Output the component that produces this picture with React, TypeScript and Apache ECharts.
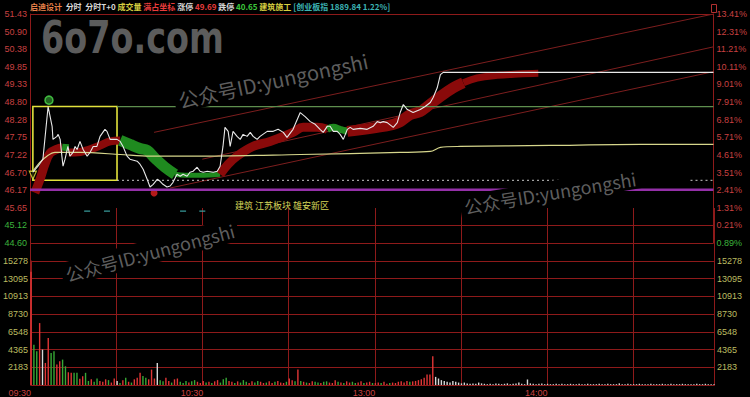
import { useEffect, useRef } from 'react';
import * as echarts from 'echarts';

// ---------- axis ticks ----------
const PRICE_MIN = 44.6;
const PRICE_MAX = 51.43;
const PRICE_TICKS = ['44.60', '45.12', '45.65', '46.17', '46.70', '47.22', '47.75', '48.28', '48.80', '49.33', '49.85', '50.38', '50.90', '51.43'];
const PCT_TICKS = ['0.89%', '0.21%', '1.31%', '2.41%', '3.51%', '4.61%', '5.71%', '6.81%', '7.91%', '9.01%', '10.11%', '11.21%', '12.31%', '13.41%'];
const VOL_MAX = 15278;
const VOL_TICKS = ['', '2183', '4365', '6548', '8730', '10913', '13095', '15278'];
const T_MAX = 238;
const TIME_TICK_VALUES = [0, 60, 120, 180];
const TIME_TICK_LABELS = ['09:30', '10:30', '13:00', '14:00'];

// ---------- price (minute index, price) ----------
const PRICE_T = [1.0, 2.8, 4.5, 6.3, 7.7, 8.0, 9.4, 9.8, 10.5, 11.1, 11.5, 12.2, 13.2, 13.9, 15.0, 15.7, 16.4, 17.4, 18.5, 19.9, 20.9, 22.0, 23.3, 24.4, 26.1, 26.8, 27.9, 30.3, 31.4, 32.4, 33.8, 34.8, 37.3, 38.3, 39.4, 40.8, 41.8, 42.9, 44.3, 45.3, 46.3, 47.7, 48.8, 49.8, 51.2, 52.3, 53.3, 54.7, 55.7, 56.8, 58.2, 59.2, 60.3, 61.7, 63.8, 65.2, 66.2, 67.2, 67.9, 69.0, 69.7, 70.7, 72.1, 73.2, 74.2, 75.6, 76.7, 77.7, 79.1, 80.1, 82.6, 84.7, 86.4, 88.2, 89.5, 91.6, 94.1, 95.8, 97.6, 99.3, 101.0, 102.1, 103.5, 104.5, 105.6, 107.0, 108.0, 109.1, 110.5, 111.5, 112.5, 115.0, 117.4, 119.5, 120.9, 122.0, 123.0, 124.4, 126.5, 127.9, 128.9, 130.0, 131.4, 133.4, 135.9, 137.6, 139.4, 140.4, 141.8, 142.9, 143.9, 238];
const PRICE_V = [46.71, 46.89, 47.10, 48.67, 48.08, 47.69, 47.78, 47.84, 47.69, 47.19, 46.89, 47.10, 47.48, 47.19, 47.30, 47.48, 47.39, 47.63, 47.39, 47.19, 47.30, 47.48, 47.48, 47.78, 47.99, 47.93, 47.69, 47.69, 47.63, 47.48, 47.19, 47.10, 47.04, 46.95, 46.80, 46.50, 46.27, 46.35, 46.50, 46.44, 46.35, 46.27, 46.30, 46.41, 46.65, 46.59, 46.65, 46.59, 46.71, 46.74, 46.86, 46.74, 46.71, 46.74, 46.71, 46.74, 46.89, 47.48, 48.05, 47.93, 47.48, 47.93, 47.78, 47.69, 47.84, 47.78, 47.90, 47.78, 47.69, 47.78, 47.93, 47.93, 47.99, 47.90, 47.75, 47.99, 48.49, 48.37, 48.22, 48.14, 47.99, 47.90, 48.08, 48.08, 47.93, 47.93, 47.84, 47.69, 47.99, 48.05, 47.99, 48.02, 47.99, 48.08, 48.22, 48.19, 48.22, 48.19, 48.05, 48.19, 48.49, 48.73, 48.58, 48.49, 48.58, 48.67, 48.79, 48.94, 49.23, 49.62, 49.69, 49.69];

// average price
const AVG_T = [1, 3.5, 5.9, 8.7, 17.4, 31.4, 41.8, 59.2, 94.1, 128.9, 139.4, 142.9, 149.8, 181.2, 212.5, 238];
const AVG_V = [46.74, 47.01, 47.19, 47.30, 47.30, 47.24, 47.19, 47.19, 47.24, 47.30, 47.33, 47.45, 47.48, 47.51, 47.54, 47.54];

// trend ribbon segments
const BAND_UP1_T = [1.7, 3.5, 5.2, 7.0, 9.5, 11.2];
const BAND_UP1_V = [46.10, 46.50, 46.95, 47.28, 47.40, 47.44];
const BAND_DN1_T = [11.2, 13.5];
const BAND_DN1_V = [47.46, 47.44];
const BAND_UP2_T = [13.5, 15.7, 20.9, 24.4, 27.9, 31.4];
const BAND_UP2_V = [47.30, 47.30, 47.39, 47.51, 47.63, 47.66];
const BAND_DN2_T = [31.4, 34.8, 38.3, 40.8, 43.6, 47.0, 50.5];
const BAND_DN2_V = [47.66, 47.54, 47.42, 47.36, 47.12, 46.86, 46.65];
const BAND_DN3_T = [50.5, 54.0, 59.2, 66.2];
const BAND_DN3_V = [46.65, 46.62, 46.62, 46.65];
const BAND_UP3_T = [66.2, 69.0, 72.1, 77.7, 83.6, 91.6, 95.1, 100.0, 103.5];
const BAND_UP3_V = [46.65, 46.95, 47.19, 47.48, 47.63, 47.90, 48.05, 48.05, 47.99];
const BAND_DN4_T = [103.5, 105.6, 108.0, 110.5];
const BAND_DN4_V = [47.99, 48.05, 47.99, 47.93];
const BAND_UP4_T = [110.5, 120.9, 126.5, 128.9, 132.4, 135.9, 138.3, 142.9, 147.4, 150.9];
const BAND_UP4_V = [47.93, 48.05, 48.14, 48.22, 48.43, 48.52, 48.67, 48.97, 49.23, 49.38];
const BAND_UP5_T = [150.9, 155.7, 162.7, 170.0, 177.0];
const BAND_UP5_V = [49.38, 49.52, 49.60, 49.64, 49.66];

// channel lines
const CH_A_T = [43.2, 238];
const CH_A_V = [47.90, 51.43];
const CH_B_T = [60, 238];
const CH_B_V = [47.10, 50.45];
const CH_C_T = [48.8, 238];
const CH_C_V = [46.24, 49.71];

// box and level lines
const BOX_T = [1, 30.3];
const BOX_V = [48.67, 46.47];
const LEVEL_HIGH_T = [30.3, 238];
const LEVEL_HIGH_V = 48.67;
const LEVEL_DOT1_T = [30.3, 186];
const LEVEL_DOT2_T = [230, 238];
const LEVEL_DOT_V = 46.47;
const LEVEL_LOW_T = [0, 238];
const LEVEL_LOW_V = 46.19;

// markers
const MARK_HIGH = [6.6, 48.86];
const MARK_LOW = [43.2, 46.09];
const MARK_START = [1, 46.62];
const SIGNAL_T = [19.9, 26.8, 53.3, 60.0];
const SIGNAL_V = 45.55;

// volume per minute (hands) and direction r/g/w
const VOL = [
  13960, 4970, 4150, 7630, 4360, 2720, 5790, 3950, 4150, 2520, 2920, 3130, 2310, 1570, 1500, 1500, 1500, 760, 1080, 1500,
  500, 700, 400, 800, 500, 400, 700, 600, 300, 800, 500, 250, 600, 900, 400, 300, 700, 900, 1500, 1100,
  900, 700, 1900, 800, 2720, 600, 450, 900, 500, 300, 700, 800, 400, 250, 500, 300, 450, 600, 400, 250,
  500, 300, 400, 250, 450, 600, 300, 700, 900, 500, 400, 250, 450, 300, 600, 400, 250, 450, 300, 500,
  400, 250, 300, 450, 250, 400, 500, 300, 250, 400, 800, 600, 450, 1900, 500, 400, 300, 250, 450, 400,
  300, 250, 400, 450, 300, 250, 600, 400, 300, 250, 450, 300, 400, 250, 300, 450, 250, 300, 400, 250,
  250, 300, 250, 400, 150, 250, 300, 250, 400, 450, 300, 500, 400, 450, 500, 600, 700, 900, 1300, 1300,
  3530, 1000, 800, 600, 500, 400, 300, 500, 400, 300, 200, 300, 200, 150, 200, 150, 300, 200, 150, 100,
  150, 100, 200, 150, 100, 150, 200, 100, 150, 200, 300, 150, 100, 680, 200, 150, 100, 150, 200, 100,
  150, 100, 100, 150, 100, 150, 100, 100, 150, 100, 100, 150, 100, 100, 150, 100, 100, 100, 150, 100,
  100, 150, 100, 100, 100, 200, 100, 100, 150, 100, 100, 100, 150, 100, 100, 100, 150, 100, 100, 100,
  150, 100, 100, 150, 100, 100, 100, 150, 100, 100, 100, 100, 150, 100, 100, 150, 100, 100, 100,
];
const VOL_DIR =
  'rggrwrrggrrggrrggrrg' +
  'grggrrrgrrwgrgrgrrrg' +
  'grrrwggrrgrrgggrggrr' +
  'rgrgrrgggrrgrgggrrgg' +
  'rrgrrgrrrgrrgrgrgrrg' +
  'grggrrrgrgrrggrrgrrg' +
  'rrgrrgrrrrrrgrrrrrrr' +
  'rwwwwwwwwwwwwwwwwwww' +
  'wwwwwwwwwwwwwwwwwwww' +
  'wwwwwwwwwwwwwwwwwwww' +
  'wwwwwwwwwwwwwwwwwwww' +
  'wwwwwwwwwwwwwwwwwww';

const GRID_C = '#8e1a1a';
const LBL_RED = '#c84040';
const LBL_GREEN = '#3cb43c';
const LBL_YEL = '#bcbc60';
const FONT = 'Liberation Sans, Arial, sans-serif';
const CJK = 'Noto Sans CJK SC, sans-serif';

const pair = (t: number[], v: number[]) => t.map((x, i) => [x, v[i]]);
const flat = (t: number[], v: number) => t.map((x) => [x, v]);

function line(data: number[][], color: string, width: number, extra: any = {}) {
  const { lineStyle, ...rest } = extra;
  return {
    type: 'line', xAxisIndex: 0, yAxisIndex: 0, data, symbol: 'none', showSymbol: false, silent: true,
    lineStyle: { color, width, cap: 'butt', ...(lineStyle || {}) },
    ...rest,
  };
}

function buildOption(): any {
  const UP = '#8a0a0a';
  const DN = '#1f8a1f';
  const splitColors = [GRID_C, GRID_C, 'transparent', 'transparent', 'transparent', 'transparent', 'transparent', 'transparent', 'transparent', 'transparent', 'transparent', 'transparent', 'transparent', GRID_C];
  const volStep = VOL_MAX / 7;
  const dirColor: Record<string, string> = { r: '#e03636', g: '#36a836', w: '#d8d8d8' };
  const hs = 8;

  return {
    backgroundColor: '#000',
    animation: false,
    title: {
      left: 30, top: 2, padding: 0,
      text: '{n|启迪设计}  {w|分时}  {w|分时T+0} {y|成交量} {r|满占坐标} {w|涨停} {r|49.69} {w|跌停} {g|40.65} {y|建筑施工} {c|[创业板指 1889.84 1.22%]}',
      textStyle: {
        fontSize: hs, fontFamily: CJK,
        rich: {
          n: { color: '#e8824a', fontSize: hs, fontFamily: CJK },
          w: { color: '#d8d8d8', fontSize: hs, fontFamily: CJK },
          y: { color: '#d8d040', fontSize: hs, fontFamily: CJK },
          r: { color: '#e83c3c', fontSize: hs, fontFamily: CJK },
          g: { color: '#3cc83c', fontSize: hs, fontFamily: CJK },
          c: { color: '#3cb4b4', fontSize: hs, fontFamily: CJK },
        },
      },
    },
    grid: [
      { left: 30, right: 36, top: 14, height: 229 },
      { left: 30, right: 36, top: 261, height: 124.5 },
      { left: 30, right: 36, top: 208, height: 177.5 },
    ],
    xAxis: [
      { gridIndex: 0, type: 'value', min: 0, max: T_MAX, show: false },
      {
        gridIndex: 1, type: 'value', min: 0, max: T_MAX, interval: 30,
        axisLine: { show: true, lineStyle: { color: GRID_C, width: 1 } },
        axisTick: { show: false }, splitLine: { show: false },
        axisLabel: {
          show: true, color: LBL_RED, fontSize: 9, fontFamily: FONT, align: 'right', margin: 3,
          showMinLabel: true, showMaxLabel: true,
          formatter: (v: number) => { const i = TIME_TICK_VALUES.indexOf(Math.round(v)); return i >= 0 ? TIME_TICK_LABELS[i] : ''; },
        },
      },
      {
        gridIndex: 2, type: 'value', min: 0, max: T_MAX, interval: 30,
        axisLine: { show: false }, axisTick: { show: false }, axisLabel: { show: false },
        splitLine: { show: true, lineStyle: { color: GRID_C, width: 1 } },
      },
    ],
    yAxis: [
      { gridIndex: 0, type: 'value', min: PRICE_MIN, max: PRICE_MAX, show: false },
      {
        gridIndex: 0, type: 'value', min: 0, max: 13, interval: 1, position: 'left',
        axisLine: { show: true, lineStyle: { color: GRID_C } }, axisTick: { show: false },
        axisLabel: {
          fontSize: 9, fontFamily: FONT, margin: 3,
          formatter: (v: number) => PRICE_TICKS[Math.round(v)] || '',
          color: (v: any) => (Number(v) <= 1 ? LBL_GREEN : LBL_RED),
        },
        splitLine: { show: true, lineStyle: { color: splitColors, width: 1 } },
      },
      {
        gridIndex: 0, type: 'value', min: 0, max: 13, interval: 1, position: 'right',
        axisLine: { show: true, lineStyle: { color: GRID_C } }, axisTick: { show: false },
        axisLabel: {
          fontSize: 9, fontFamily: FONT, margin: 3,
          formatter: (v: number) => PCT_TICKS[Math.round(v)] || '',
          color: (v: any) => (Number(v) < 1 ? LBL_GREEN : LBL_RED),
        },
        splitLine: { show: false },
      },
      {
        gridIndex: 1, type: 'value', min: 0, max: VOL_MAX, interval: volStep, position: 'left',
        axisLine: { show: true, lineStyle: { color: GRID_C } }, axisTick: { show: false },
        axisLabel: { fontSize: 9, fontFamily: FONT, margin: 3, color: LBL_YEL, formatter: (v: number) => VOL_TICKS[Math.round(v / volStep)] || '' },
        splitLine: { show: true, lineStyle: { color: GRID_C, width: 1 } },
      },
      {
        gridIndex: 1, type: 'value', min: 0, max: VOL_MAX, interval: volStep, position: 'right',
        axisLine: { show: true, lineStyle: { color: GRID_C } }, axisTick: { show: false },
        axisLabel: { fontSize: 9, fontFamily: FONT, margin: 3, color: LBL_YEL, formatter: (v: number) => VOL_TICKS[Math.round(v / volStep)] || '' },
        splitLine: { show: false },
      },
      { gridIndex: 2, type: 'value', min: 0, max: 1, show: false },
    ],
    series: [
      line(pair(CH_A_T, CH_A_V), '#7c1e1e', 1),
      line(pair(CH_B_T, CH_B_V), '#7c1e1e', 1),
      line(pair(CH_C_T, CH_C_V), '#7c1e1e', 1),
      line(pair(BAND_UP1_T, BAND_UP1_V), UP, 9, { smooth: 0.4 }),
      line(pair(BAND_DN1_T, BAND_DN1_V), DN, 7, { smooth: 0.4 }),
      line(pair(BAND_UP2_T, BAND_UP2_V), UP, 8, { smooth: 0.4 }),
      line(pair(BAND_DN2_T, BAND_DN2_V), DN, 11, { smooth: 0.4 }),
      line(pair(BAND_DN3_T, BAND_DN3_V), DN, 5, { smooth: 0.4 }),
      line(pair(BAND_UP3_T, BAND_UP3_V), UP, 9, { smooth: 0.4 }),
      line(pair(BAND_DN4_T, BAND_DN4_V), DN, 7, { smooth: 0.4 }),
      line(pair(BAND_UP4_T, BAND_UP4_V), UP, 11, { smooth: 0.4 }),
      line(pair(BAND_UP5_T, BAND_UP5_V), UP, 7, { smooth: 0.4 }),
      line(flat(LEVEL_HIGH_T, LEVEL_HIGH_V), '#5e8e4e', 1.3),
      line(flat(LEVEL_DOT1_T, LEVEL_DOT_V), '#c8c8c8', 1, { lineStyle: { type: [2, 3] } }),
      line(flat(LEVEL_DOT2_T, LEVEL_DOT_V), '#c8c8c8', 1, { lineStyle: { type: [2, 3] } }),
      line(flat(LEVEL_LOW_T, LEVEL_LOW_V), '#9430a8', 2.5),
      line(pair(AVG_T, AVG_V), '#d6d68c', 1.2, { smooth: 0.3 }),
      {
        ...line(pair(PRICE_T, PRICE_V), '#e8e8e8', 1.1),
        markArea: {
          silent: true,
          itemStyle: { color: 'rgba(0,0,0,0)', borderColor: '#e2e23c', borderWidth: 1.6 },
          data: [[{ xAxis: BOX_T[0], yAxis: BOX_V[0] }, { xAxis: BOX_T[1], yAxis: BOX_V[1] }]],
        },
      },
      {
        type: 'scatter', xAxisIndex: 0, yAxisIndex: 0, silent: true, data: [MARK_HIGH],
        symbol: 'circle', symbolSize: 8, itemStyle: { color: '#2a7a2a', borderColor: '#4cdc4c', borderWidth: 1.5 },
      },
      {
        type: 'scatter', xAxisIndex: 0, yAxisIndex: 0, silent: true, data: [MARK_LOW],
        symbol: 'circle', symbolSize: 7, itemStyle: { color: '#e02020' },
      },
      {
        type: 'scatter', xAxisIndex: 0, yAxisIndex: 0, silent: true, data: [MARK_START],
        symbol: 'triangle', symbolRotate: 180, symbolSize: [7, 8], itemStyle: { color: '#000', borderColor: '#e2e23c', borderWidth: 1.3 },
      },
      {
        type: 'scatter', xAxisIndex: 0, yAxisIndex: 0, silent: true, data: flat(SIGNAL_T, SIGNAL_V),
        symbol: 'rect', symbolSize: [6, 1.5], itemStyle: { color: '#3aa0a0' },
      },
      {
        type: 'bar', xAxisIndex: 1, yAxisIndex: 3, silent: true, barWidth: 1.4,
        data: VOL.map((v, i) => [i, v]),
        itemStyle: { color: (p: any) => dirColor[VOL_DIR[p.dataIndex]] || '#d8d8d8' },
      },
    ],
    graphic: [
      {
        type: 'text', left: 41, top: 16, z: 1, silent: true, scaleX: 0.76,
        style: { text: '6o7o.com', fill: '#5c5c5c', font: 'bold 44px DejaVu Sans, sans-serif' },
      },
      {
        type: 'text', x: 177, y: 113, rotation: 0.21, z: 100, silent: true,
        style: { text: '公众号ID:yungongshi', fill: '#5e5e5e', font: '20px ' + CJK, verticalAlign: 'bottom', backgroundColor: '#000', padding: [2, 4, 2, 4] },
      },
      {
        type: 'text', x: 462, y: 218, rotation: 0.165, z: 100, silent: true,
        style: { text: '公众号ID:yungongshi', fill: '#5e5e5e', font: '18px ' + CJK, verticalAlign: 'bottom', backgroundColor: '#000', padding: [2, 4, 2, 4] },
      },
      {
        type: 'text', x: 65, y: 287, rotation: 0.26, z: 100, silent: true,
        style: { text: '公众号ID:yungongshi', fill: '#5e5e5e', font: '18px ' + CJK, verticalAlign: 'bottom', backgroundColor: '#000', padding: [3, 4, 3, 4] },
      },
      {
        type: 'text', left: 235, top: 201, z: 50, silent: true,
        style: { text: '建筑 江苏板块 雄安新区', fill: '#d6d65a', font: '9px ' + CJK },
      },
      {
        type: 'rect', left: 709, top: 2, z: 50, silent: true,
        shape: { width: 5, height: 8 }, style: { fill: 'none', stroke: '#b03030', lineWidth: 1 },
      },
    ],
  };
}

export default function App() {
  const ref = useRef<HTMLDivElement>(null);
  useEffect(() => {
    document.body.style.margin = '0';
    document.body.style.background = '#000';
    const chart = echarts.init(ref.current!, null, { renderer: 'svg' });
    chart.setOption(buildOption());
    return () => chart.dispose();
  }, []);
  return <div ref={ref} style={{ width: 750, height: 397, background: '#000' }} />;
}
